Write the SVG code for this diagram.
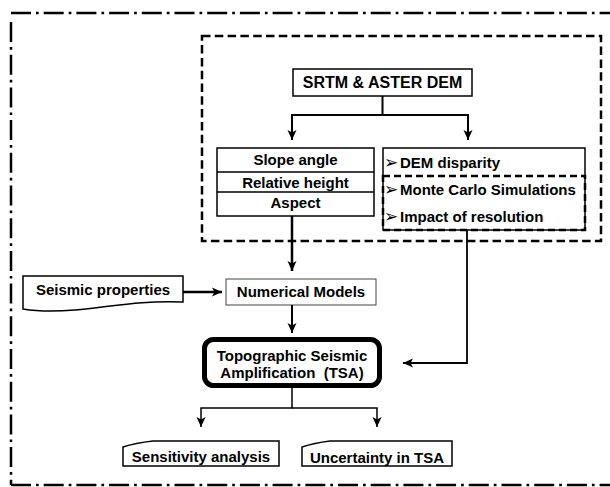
<svg xmlns="http://www.w3.org/2000/svg" width="610" height="487" viewBox="0 0 610 487">
<style>
text{font-family:"Liberation Sans",Arial,sans-serif;font-weight:bold;font-size:15px;fill:#000}
.c{text-anchor:middle}
.box{fill:#fff;stroke:#000;stroke-width:1.5}
.frame{fill:none;stroke:#000;stroke-width:2.5;stroke-dasharray:20 5 2.7 5}
.dash{fill:none;stroke:#000;stroke-width:2.5;stroke-dasharray:8.5 4.3}
.conn path{fill:none;stroke:#000;marker-end:url(#ah)}
.bul{font-family:"DejaVu Sans",sans-serif;font-weight:normal;font-size:17px}
</style>
<defs>
<marker id="ah" markerUnits="userSpaceOnUse" viewBox="0 0 10 10" refX="10" refY="5" markerWidth="10" markerHeight="11" orient="auto">
<path d="M0,0.5 L10,5 L0,9.5 L2.5,5 z" fill="#000"/>
</marker>
</defs>
<rect width="610" height="487" fill="#fff"/>
<g id="frame">
<path class="frame" d="M11,13 H640"/>
<path class="frame" d="M11,22 V485"/>
<path class="frame" d="M11,485 H640"/>
</g>
<g id="dem-group">
<rect class="dash" x="202" y="36" width="399" height="205"/>
</g>
<g id="srtm">
<rect class="box" x="293" y="69" width="179" height="27"/>
<text class="c" x="382.5" y="87.5" style="font-size:16px">SRTM &amp; ASTER DEM</text>
</g>
<g id="terrain">
<rect class="box" x="217" y="148" width="157" height="68"/>
<path d="M217,172 H374 M217,192 H374" stroke="#000" stroke-width="1.5"/>
<text class="c" x="295.5" y="165">Slope angle</text>
<text class="c" x="295.5" y="188">Relative height</text>
<text class="c" x="295.5" y="208">Aspect</text>
</g>
<g id="dem-analysis">
<rect class="box" x="383" y="148" width="202" height="82"/>
<rect class="dash" x="383" y="176" width="202" height="54" style="stroke-dasharray:7 4"/>
<text x="384" y="168"><tspan class="bul">➢</tspan><tspan x="400">DEM disparity</tspan></text>
<text x="384" y="195"><tspan class="bul">➢</tspan><tspan x="400">Monte Carlo Simulations</tspan></text>
<text x="384" y="222"><tspan class="bul">➢</tspan><tspan x="400">Impact of resolution</tspan></text>
</g>
<g id="seismic">
<path class="box" d="M23,276 H183 V302 C140,300 110,307 75,310 C50,312 35,311 23,309 Z"/>
<text class="c" x="103" y="295">Seismic properties</text>
</g>
<g id="numerical">
<rect x="226" y="279" width="150" height="26" fill="#fff" stroke="#444" stroke-width="1"/>
<text class="c" x="301" y="297">Numerical Models</text>
</g>
<g id="tsa">
<rect x="204.5" y="339.5" width="175" height="46" rx="9" fill="#fff" stroke="#000" stroke-width="5"/>
<text class="c" x="292" y="361">Topographic Seismic</text>
<text class="c" x="292" y="378">Amplification&#160; (TSA)</text>
</g>
<g id="sensitivity">
<path class="box" d="M123,447 Q135,443 153,441 H279 V466 H123 Z"/>
<text class="c" x="201" y="462">Sensitivity analysis</text>
</g>
<g id="uncertainty">
<path class="box" d="M302,447 Q314,443 330,441 H452 V466 H302 Z"/>
<text class="c" x="377" y="463">Uncertainty in TSA</text>
</g>
<g id="connectors" class="conn">
<path d="M382.5,96 V115 H292 V140" stroke-width="2"/>
<path d="M382.5,115 H468 V140" stroke-width="2"/>
<path d="M292,216 V271" stroke-width="2.5"/>
<path d="M183,292 H222" stroke-width="2.5"/>
<path d="M292,305 V333" stroke-width="2"/>
<path d="M467,230 V363 H403" stroke-width="1.8"/>
<path d="M292,388 V408 H201 V427" stroke-width="1.5"/>
<path d="M292,408 H377 V427" stroke-width="1.5"/>
</g>
</svg>
